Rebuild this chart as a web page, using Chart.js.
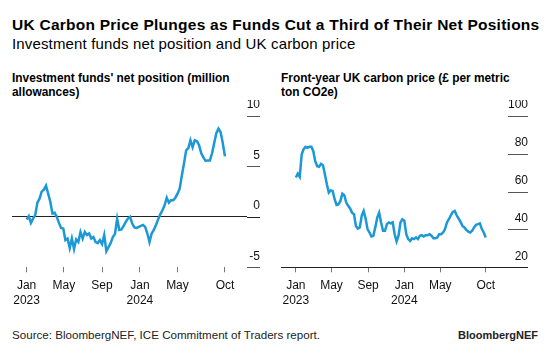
<!DOCTYPE html>
<html>
<head>
<meta charset="utf-8">
<script src="https://cdn.jsdelivr.net/npm/chart.js@4/dist/chart.umd.min.js"></script>
<style>
body{margin:0;background:#fff;width:550px;height:362px;overflow:hidden;position:relative;font-family:'Liberation Sans',Arial,sans-serif;color:#000}
.t{position:absolute;white-space:nowrap}
#title{left:12px;top:16px;font-size:15.5px;letter-spacing:0.25px;font-weight:bold;line-height:18px}
#sub{left:12px;top:35px;font-size:15px;letter-spacing:0.15px;line-height:18px}
.ptitle{top:71px;font-size:11.9px;font-weight:bold;line-height:14px}
#src{left:12px;top:328px;font-size:11.6px;line-height:14px;color:#222}
#brand{right:12px;top:328px;font-size:11px;font-weight:bold;line-height:14px;color:#222}
.box{position:absolute;top:100px;height:215px}
</style>
</head>
<body>
<div class="t" id="title">UK Carbon Price Plunges as Funds Cut a Third of Their Net Positions</div>
<div class="t" id="sub">Investment funds net position and UK carbon price</div>
<div class="t ptitle" style="left:12px">Investment funds' net position (million<br>allowances)</div>
<div class="t ptitle" style="left:281px">Front-year UK carbon price (£ per metric<br>ton CO2e)</div>
<div class="box" style="left:0;width:260px"><canvas id="funds"></canvas></div>
<div class="box" style="left:275px;width:253px"><canvas id="price"></canvas></div>
<div class="t" id="src">Source: BloombergNEF, ICE Commitment of Traders report.</div>
<div class="t" id="brand">BloombergNEF</div>
<script>
// x ticks, in days from 1 Jan 2023
var tickDays = [0, 120, 243, 365, 486, 639];
var tickMonths = ['Jan', 'May', 'Sep', 'Jan', 'May', 'Oct'];
var tickYears = ['2023', '', '', '2024', '', ''];
var lastDay = 639;

// weekly net position, million allowances
var fundsPosition = [-0.26, 0.07, -0.6, -0.17, 0.17, 1.4, 1.8, 2.5, 2.7, 3.1,
  2.3, 1.5, 0.33, 0.4, 0, -0.6, -1.1, -1.15, -2.3, -2.15,
  -3.1, -2.15, -3.2, -2.25, -2.5, -1.5, -2.15, -1.5, -1.8, -1.65,
  -2.15, -2.0, -2.5, -2.6, -2.3, -2.7, -1.8, -3.4, -3.0, -2.6,
  -2.0, -1.7, -0.17, -1.3, -1.25, -0.9, -0.5, -0.17, 0, -0.66,
  -1.05, -1.1, -1.0, -0.9, -0.8, -1.0, -1.65, -2.5, -1.65, -1.3,
  -0.8, -0.25, 0.25, 0.65, 1.15, 1.9, 1.4, 1.65, 1.65, 1.9,
  2.3, 2.8, 4.1, 5.3, 6.6, 6.8, 7.6, 6.9, 7.6, 7.5,
  7.1, 6.3, 5.9, 5.55, 5.6, 5.6, 6.3, 7.3, 8.3, 8.75,
  8.4, 7.3, 6.0];
var fundsTicks = [-5, 10, 5];

// front-year UK carbon price, GBP per ton
var carbonPrice = [67.5, 69.5, 67.8, 79.6, 82.5, 83.7, 83.2, 83.7, 83.7, 81.4,
  76.1, 73.5, 73.2, 74.7, 73.9, 69.1, 63.9, 59.5, 60.7, 60.4,
  56, 53, 53.3, 55.1, 58.9, 58.1, 54.2, 52.5, 51.1, 48.9,
  48.1, 41.9, 40.5, 41.1, 47.2, 49.8, 45.8, 40.2, 38.4, 36.3,
  36.7, 41.1, 46.3, 48.9, 43.7, 39.3, 39.3, 42.8, 43.7, 43.2,
  43.7, 37.5, 33.7, 36.7, 43.7, 45.4, 44.6, 37.5, 34.9, 34.0,
  35.3, 34.9, 35.8, 34.9, 36.7, 37.0, 36.3, 37.0, 37.0, 37.5,
  36.7, 35.3, 35.3, 35.8, 37.5, 37.5, 38.4, 40.2, 43.7, 45.4,
  47.5, 49.3, 49.8, 47.5, 45.8, 44.0, 41.9, 41.1, 39.8, 38.8,
  38.4, 39.3, 41.1, 42.5, 42.8, 43.2, 40.2, 38.4, 35.8];
var priceTicks = [20, 100, 20];

var lineColor = '#1b98d5';
var font = {family: "'Liberation Sans', Arial, sans-serif", size: 12};

function toPoints(values) {
  var step = lastDay / (values.length - 1);
  return values.map(function(v, i) { return {x: i * step, y: v}; });
}

// short tick marks under the right-hand labels, Bloomberg style
var yMarks = {
  id: 'yMarks',
  beforeDatasetsDraw: function(chart, args, opts) {
    var y = chart.scales.y, area = chart.chartArea, c = chart.ctx;
    c.save();
    c.lineWidth = 1;
    y.ticks.forEach(function(t) {
      var py = Math.round(y.getPixelForValue(t.value)) + 0.5;
      c.strokeStyle = t.value === opts.base ? '#222' : '#555';
      c.beginPath();
      c.moveTo(area.right, py);
      c.lineTo(y.right, py);
      c.stroke();
    });
    c.restore();
  }
};

function makeChart(id, values, yTicks, baseValue, labelW, xRange) {
  var ctx = document.getElementById(id).getContext('2d');
  return new Chart(ctx, {
    type: 'line',
    data: {
      datasets: [{
        data: toPoints(values),
        borderColor: lineColor,
        borderWidth: 2.5,
        pointRadius: 0,
        tension: 0
      }]
    },
    plugins: [yMarks],
    options: {
      responsive: true,
      maintainAspectRatio: false,
      animation: false,
      layout: {padding: {left: xRange[2], top: 16, right: 0, bottom: 7.7}},
      plugins: {legend: {display: false}, tooltip: {enabled: false}, yMarks: {base: baseValue}},
      scales: {
        x: {
          type: 'linear',
          min: xRange[0], max: xRange[1],
          afterBuildTicks: function(axis) {
            axis.ticks = tickDays.map(function(d) { return {value: d}; });
          },
          afterFit: function(s) { s.height = 40; },
          border: {display: false},
          grid: {drawOnChartArea: false, tickLength: 5, color: '#777'},
          ticks: {
            autoSkip: false, maxRotation: 0, padding: 6.5, color: '#111', font: font,
            callback: function(v) {
              var i = tickDays.indexOf(v);
              return i < 0 ? '' : [tickMonths[i], tickYears[i]];
            }
          }
        },
        y: {
          position: 'right',
          min: yTicks[0], max: yTicks[1],
          afterFit: function(s) { s.width = labelW; },
          border: {display: false},
          grid: {
            drawTicks: false,
            color: function(c) { return c.tick && c.tick.value === baseValue ? '#222' : 'rgba(0,0,0,0)'; }
          },
          ticks: {
            stepSize: yTicks[2], crossAlign: 'far', padding: 0, labelOffset: -11,
            color: '#111', font: font
          }
        }
      }
    }
  });
}

makeChart('funds', fundsPosition, fundsTicks, 0, 13, [-47, 710, 12]);
makeChart('price', carbonPrice, priceTicks, 20, 20, [-50, 714, 6]);
</script>
</body>
</html>
